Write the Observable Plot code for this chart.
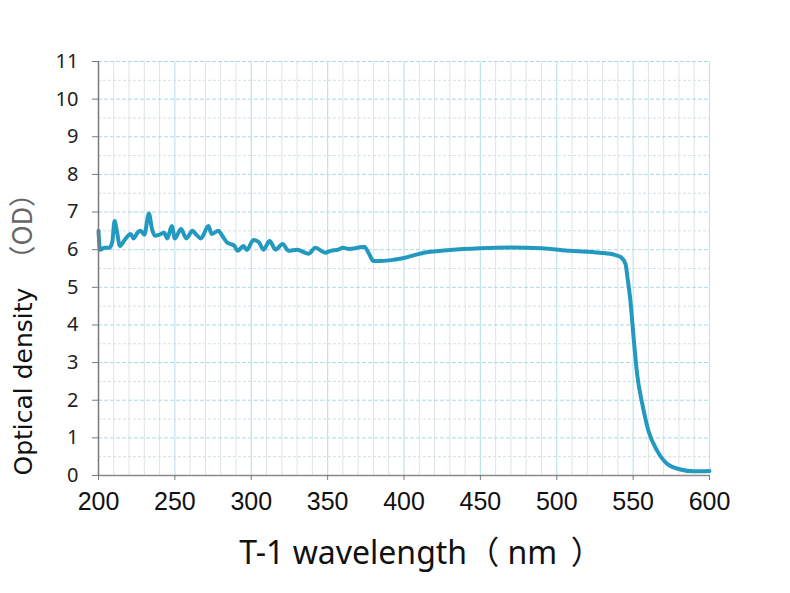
<!DOCTYPE html>
<html>
<head>
<meta charset="utf-8">
<script src="https://cdn.jsdelivr.net/npm/d3@7"></script>
<script src="https://cdn.jsdelivr.net/npm/@observablehq/plot@0.6"></script>
<style>
  html, body { margin: 0; padding: 0; background: #fff; }
  #chart svg { display: block; }
</style>
</head>
<body>
<div id="chart"></div>
<script>
// Measured optical density of the T-1 filter
const wavelength = [
  200, 201, 204, 207, 209, 210.5, 212, 214, 217, 221, 223, 225.5, 227.5, 230, 233, 235, 237, 240,
  243, 245, 248, 250, 254, 257.5, 261.5, 264, 267, 272, 274, 278.5, 281, 284, 286.5, 289, 291,
  295, 297, 301.5, 305, 308, 312, 316, 320.5, 324.5, 330, 337.5, 342, 348.5, 352, 357, 360, 364,
  369.5, 374, 377, 380, 385, 393, 400, 411, 430, 450, 470, 490, 509, 528, 538, 542, 545, 546.5,
  548, 550.5, 552.6, 556, 560, 565.7, 572, 581, 590, 600
];
const opticalDensity = [
  6.5, 6.0, 6.05, 6.05, 6.2, 6.76, 6.5, 6.1, 6.25, 6.42, 6.3, 6.45, 6.5, 6.4, 6.96, 6.55, 6.37, 6.4,
  6.45, 6.3, 6.63, 6.3, 6.55, 6.3, 6.5, 6.4, 6.3, 6.63, 6.42, 6.5, 6.37, 6.2, 6.15, 6.1, 5.97,
  6.1, 5.99, 6.26, 6.2, 6.0, 6.23, 6.0, 6.15, 5.97, 6.0, 5.89, 6.05, 5.92, 5.97, 6.0, 6.05, 6.02,
  6.05, 6.08, 5.9, 5.7, 5.7, 5.73, 5.78, 5.9, 5.99, 6.04, 6.06, 6.04, 5.97, 5.92, 5.86, 5.8, 5.62, 5.2,
  4.73, 3.58, 2.7, 1.9, 1.19, 0.66, 0.32, 0.16, 0.11, 0.12
];

// Axis ticks and grid positions
const xTicks = [200, 250, 300, 350, 400, 450, 500, 550, 600];
const yTicks = [0, 1, 2, 3, 4, 5, 6, 7, 8, 9, 10, 11];
const xMinorGrid = d3.range(210, 600, 10).filter(v => v % 50 !== 0);
const yMinorGrid = d3.range(0.5, 11, 1);

const xTitle = "T-1 wavelength（ nm \u2009）";
const yTitle = "Optical density";
const yTitleUnit = "（OD）";

const spectrum = wavelength.map((w, i) => ({wavelength: w, od: opticalDensity[i]}));

const chart = Plot.plot({
  width: 790,
  height: 593,
  marginLeft: 98,
  marginRight: 81,
  marginTop: 61,
  marginBottom: 118,
  x: {domain: [200, 600]},
  y: {domain: [0, 11]},
  style: {background: "#fff", fontFamily: "'Noto Sans', sans-serif"},
  marks: [
    // background grid
    Plot.ruleY(yMinorGrid, {stroke: "#d6dfe3", strokeDasharray: "3,2", strokeWidth: 1}),
    Plot.ruleX(xMinorGrid, {stroke: "#dbe5e9", strokeWidth: 1}),
    Plot.ruleY(yTicks.slice(1), {stroke: "#a8d9ea", strokeDasharray: "4,2", strokeWidth: 1}),
    Plot.ruleX(xTicks.slice(1), {stroke: "#bfe4ef", strokeWidth: 1.2}),
    // spectrum
    Plot.line(spectrum, {x: "wavelength", y: "od", stroke: "#2399c0", strokeWidth: 4, curve: "monotone-x", strokeLinejoin: "round"}),
    // axis lines and ticks
    Plot.ruleX([200], {y1: 0, y2: 11, stroke: "#7a7a7a", strokeWidth: 1.5}),
    Plot.ruleY([0], {stroke: "#8a8a8a", strokeWidth: 1.5}),
    Plot.axisY(yTicks, {tickSize: 6, stroke: "#7a7a7a", tickFormat: () => "", label: null}),
    Plot.axisX(xTicks, {tickSize: 5, stroke: "#7a7a7a", tickFormat: () => "", label: null}),
    // tick labels
    Plot.text(yTicks, {x: 200, y: d => d, text: d => String(d), dx: -20, textAnchor: "end", lineAnchor: "middle", fontSize: 20, fill: "#222", fontFamily: "'Noto Sans', sans-serif"}),
    Plot.text(xTicks, {x: d => d, y: 0, text: d => String(d), dy: 26, lineAnchor: "middle", fontSize: 25, fill: "#111", fontFamily: "'Liberation Sans', sans-serif", ariaLabel: "x tick label"}),
    // axis titles
    Plot.text([xTitle], {frameAnchor: "bottom", dx: 17, dy: 88, lineAnchor: "bottom", fontSize: 32, fill: "#111", fontFamily: "'Noto Sans', 'Noto Sans CJK SC', sans-serif"}),
    Plot.text([yTitle], {frameAnchor: "bottom-left", dx: -75, dy: 0, rotate: -90, textAnchor: "start", lineAnchor: "middle", fontSize: 25, fill: "#111", fontFamily: "'DejaVu Sans', sans-serif"}),
    Plot.text([yTitleUnit], {frameAnchor: "bottom-left", dx: -75, dy: -203, rotate: -90, textAnchor: "start", lineAnchor: "middle", fontSize: 27, fill: "#666", fontFamily: "'Noto Sans CJK SC', sans-serif"})
  ]
});

// condensed digits on the wavelength axis
d3.select(chart).selectAll('g[aria-label="x tick label"] text').each(function () {
  const t = d3.select(this);
  const x = +t.attr("x") || 0, y = +t.attr("y") || 0;
  const tr = t.attr("transform") || "";
  t.attr("x", null).attr("y", null).attr("transform", `${tr} translate(${x},${y}) scale(0.82,1)`);
});

document.getElementById("chart").appendChild(chart);
</script>
</body>
</html>
